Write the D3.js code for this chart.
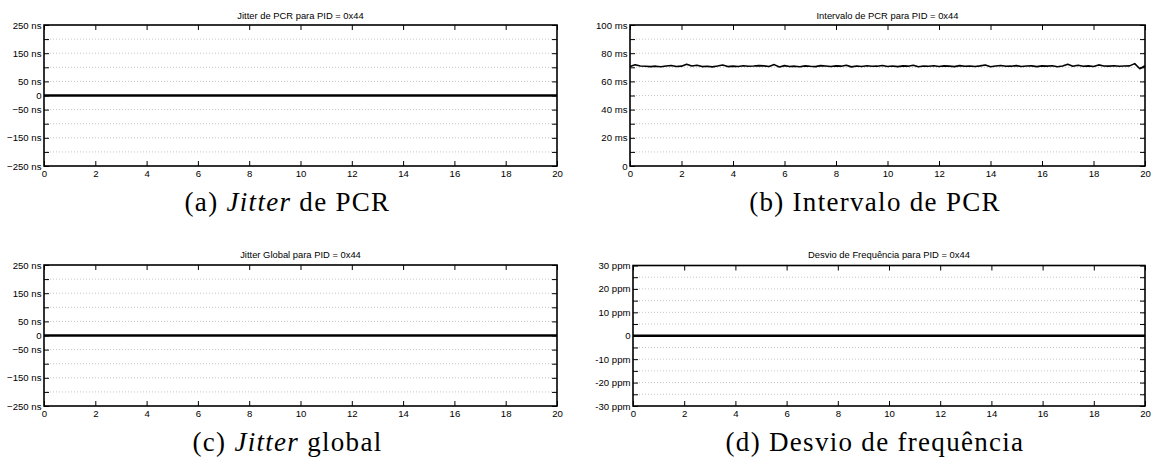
<!DOCTYPE html>
<html>
<head>
<meta charset="utf-8">
<script src="https://cdn.jsdelivr.net/npm/d3@7"></script>
<style>
  html, body { margin: 0; padding: 0; background: #fff; }
  svg { display: block; }
  .title, .tick text { font-family: "Liberation Sans", Arial, sans-serif; }
  .caption { font-family: "Liberation Serif", "DejaVu Serif", serif; }
</style>
</head>
<body>
<svg id="fig" width="1153" height="457"></svg>
<script>
// ---- time axis (seconds) ----
const timeTicks = [0, 2, 4, 6, 8, 10, 12, 14, 16, 18, 20];
const timeTickLabels = ["0", "2", "4", "6", "8", "10", "12", "14", "16", "18", "20"];

// ---- jitter axes (ns) ----
const jitterTicks = [-250, -200, -150, -100, -50, 0, 50, 100, 150, 200, 250];
const jitterTickLabels = ["\u2212250 ns", "", "\u2212150 ns", "", "\u221250 ns", "0", "50 ns", "", "150 ns", "", "250 ns"];

// ---- PCR interval axis (ms) ----
const intervalTicks = [0, 10, 20, 30, 40, 50, 60, 70, 80, 90, 100];
const intervalTickLabels = ["0", "", "20 ms", "", "40 ms", "", "60 ms", "", "80 ms", "", "100 ms"];

// ---- frequency deviation axis (ppm) ----
const freqTicks = [-30, -25, -20, -15, -10, -5, 0, 5, 10, 15, 20, 25, 30];
const freqTickLabels = ["-30 ppm", "", "-20 ppm", "", "-10 ppm", "", "0", "", "10 ppm", "", "20 ppm", "", "30 ppm"];

// ---- measured series ----
// PCR jitter (ns), sampled every 0.5 s
const pcrJitterStep = 0.5;
const pcrJitter = [0,0,0,0,0,0,0,0,0,0,0,0,0,0,0,0,0,0,0,0,0,
                   0,0,0,0,0,0,0,0,0,0,0,0,0,0,0,0,0,0,0,0];
// global jitter (ns), sampled every 0.5 s
const globalJitterStep = 0.5;
const globalJitter = [0,0,0,0,0,0,0,0,0,0,0,0,0,0,0,0,0,0,0,0,0,
                      0,0,0,0,0,0,0,0,0,0,0,0,0,0,0,0,0,0,0,0];
// frequency deviation (ppm), sampled every 0.5 s
const freqDevStep = 0.5;
const freqDev = [0,0,0,0,0,0,0,0,0,0,0,0,0,0,0,0,0,0,0,0,0,
                 0,0,0,0,0,0,0,0,0,0,0,0,0,0,0,0,0,0,0,0];
// PCR interval (ms), sampled every 0.2 s
const pcrIntervalStep = 0.2;
const pcrInterval = [
  70.5, 71.8, 70.9, 70.7, 70.5, 70.8, 70.4, 70.9, 71.3, 70.6,
  70.8, 72.2, 70.9, 71.4, 70.5, 70.7, 70.3, 70.9, 71.6, 70.5,
  70.8, 70.6, 71.1, 70.7, 70.9, 71.2, 71.0, 70.6, 71.9, 70.2,
  71.2, 70.6, 70.8, 70.4, 71.0, 70.7, 70.5, 71.2, 70.9, 70.6,
  71.0, 70.8, 71.5, 70.3, 70.9, 70.6, 71.1, 70.7, 70.8, 71.3,
  70.6, 70.9, 70.5, 71.0, 70.8, 71.4, 70.4, 70.9, 70.7, 71.1,
  70.6, 71.0, 70.8, 70.5, 71.2, 70.7, 70.9, 70.6, 71.0, 71.6,
  70.4, 70.9, 71.3, 70.7, 70.8, 71.2, 70.6, 70.9, 71.0, 70.5,
  71.0, 70.8, 71.1, 70.4, 70.9, 72.1, 70.8, 71.4, 70.7, 71.0,
  70.6, 71.7, 70.9, 70.8, 71.1, 70.7, 70.9, 71.0, 72.6, 69.0,
  71.1
];

// ---- panel layout ----
const panels = [
  { title: "Jitter de PCR para PID = 0x44", x0: 44, x1: 557, y0: 25, y1: 166, titleY: 19,
    domain: [-250, 250], ticks: jitterTicks, labels: jitterTickLabels,
    data: pcrJitter, step: pcrJitterStep, lw: 2.3,
    capX: 287.5, capY: 211, cap: ["(a) ", "Jitter", " de PCR"] },
  { title: "Intervalo de PCR para PID = 0x44", x0: 630, x1: 1145, y0: 25, y1: 166, titleY: 19,
    domain: [0, 100], ticks: intervalTicks, labels: intervalTickLabels,
    data: pcrInterval, step: pcrIntervalStep, lw: 1.6,
    capX: 875, capY: 211, cap: ["(b) Intervalo de PCR"] },
  { title: "Jitter Global para PID = 0x44", x0: 44, x1: 557, y0: 265, y1: 406, titleY: 258,
    domain: [-250, 250], ticks: jitterTicks, labels: jitterTickLabels,
    data: globalJitter, step: globalJitterStep, lw: 2.3,
    capX: 287.5, capY: 451, cap: ["(c) ", "Jitter", " global"] },
  { title: "Desvio de Frequ\u00eancia para PID = 0x44", x0: 633, x1: 1145, y0: 265.5, y1: 406, titleY: 258,
    domain: [-30, 30], ticks: freqTicks, labels: freqTickLabels,
    data: freqDev, step: freqDevStep, lw: 2.3,
    capX: 875, capY: 451, cap: ["(d) Desvio de frequ\u00eancia"] }
];

const svg = d3.select("#fig");

panels.forEach(p => {
  const x = d3.scaleLinear().domain([0, 20]).range([p.x0, p.x1]);
  const y = d3.scaleLinear().domain(p.domain).range([p.y1, p.y0]);
  const g = svg.append("g");

  // dotted horizontal grid
  g.append("g").selectAll("line")
    .data(p.ticks.filter(v => v !== p.domain[0] && v !== p.domain[1]))
    .join("line")
    .attr("x1", p.x0).attr("x2", p.x1)
    .attr("y1", d => y(d)).attr("y2", d => y(d))
    .attr("stroke", "#b8b8b8").attr("stroke-width", 0.8)
    .attr("stroke-dasharray", "1,2");

  // series
  const line = d3.line().x((d, i) => x(i * p.step)).y(d => y(d));
  g.append("path").datum(p.data)
    .attr("d", line)
    .attr("fill", "none").attr("stroke", "#000")
    .attr("stroke-width", p.lw).attr("stroke-linejoin", "round");

  // axes with inward ticks
  const labelMap = new Map(p.ticks.map((v, i) => [v, p.labels[i]]));
  const tickMap = new Map(timeTicks.map((v, i) => [v, timeTickLabels[i]]));

  const left = g.append("g").attr("transform", `translate(${p.x0},0)`)
    .call(d3.axisLeft(y).tickValues(p.ticks).tickSize(-5).tickPadding(2.5)
      .tickFormat(d => labelMap.get(d)));
  const right = g.append("g").attr("transform", `translate(${p.x1},0)`)
    .call(d3.axisRight(y).tickValues(p.ticks).tickSize(-5).tickFormat(""));
  const bottom = g.append("g").attr("transform", `translate(0,${p.y1})`)
    .call(d3.axisBottom(x).tickValues(timeTicks).tickSize(-5).tickPadding(4)
      .tickFormat(d => tickMap.get(d)));
  const top = g.append("g").attr("transform", `translate(0,${p.y0})`)
    .call(d3.axisTop(x).tickValues(timeTicks).tickSize(-5).tickFormat(""));

  [left, right, bottom, top].forEach(a => {
    a.select(".domain").remove();
    a.selectAll(".tick line").attr("stroke", "#000").attr("stroke-width", 1);
    a.selectAll(".tick text").attr("font-size", 9.6).attr("fill", "#000");
  });

  // frame
  g.append("rect")
    .attr("x", p.x0).attr("y", p.y0)
    .attr("width", p.x1 - p.x0).attr("height", p.y1 - p.y0)
    .attr("fill", "none").attr("stroke", "#000").attr("stroke-width", 1.6);

  // title
  g.append("text").attr("class", "title")
    .attr("x", (p.x0 + p.x1) / 2).attr("y", p.titleY)
    .attr("text-anchor", "middle").attr("font-size", 9.4)
    .text(p.title);

  // caption
  const cap = g.append("text").attr("class", "caption")
    .attr("x", p.capX).attr("y", p.capY)
    .attr("text-anchor", "middle").attr("font-size", 27)
    .attr("letter-spacing", 1.3);
  p.cap.forEach((s, i) => {
    cap.append("tspan").attr("font-style", (p.cap.length === 3 && i === 1) ? "italic" : "normal")
      .text(s);
  });
});
</script>
</body>
</html>
